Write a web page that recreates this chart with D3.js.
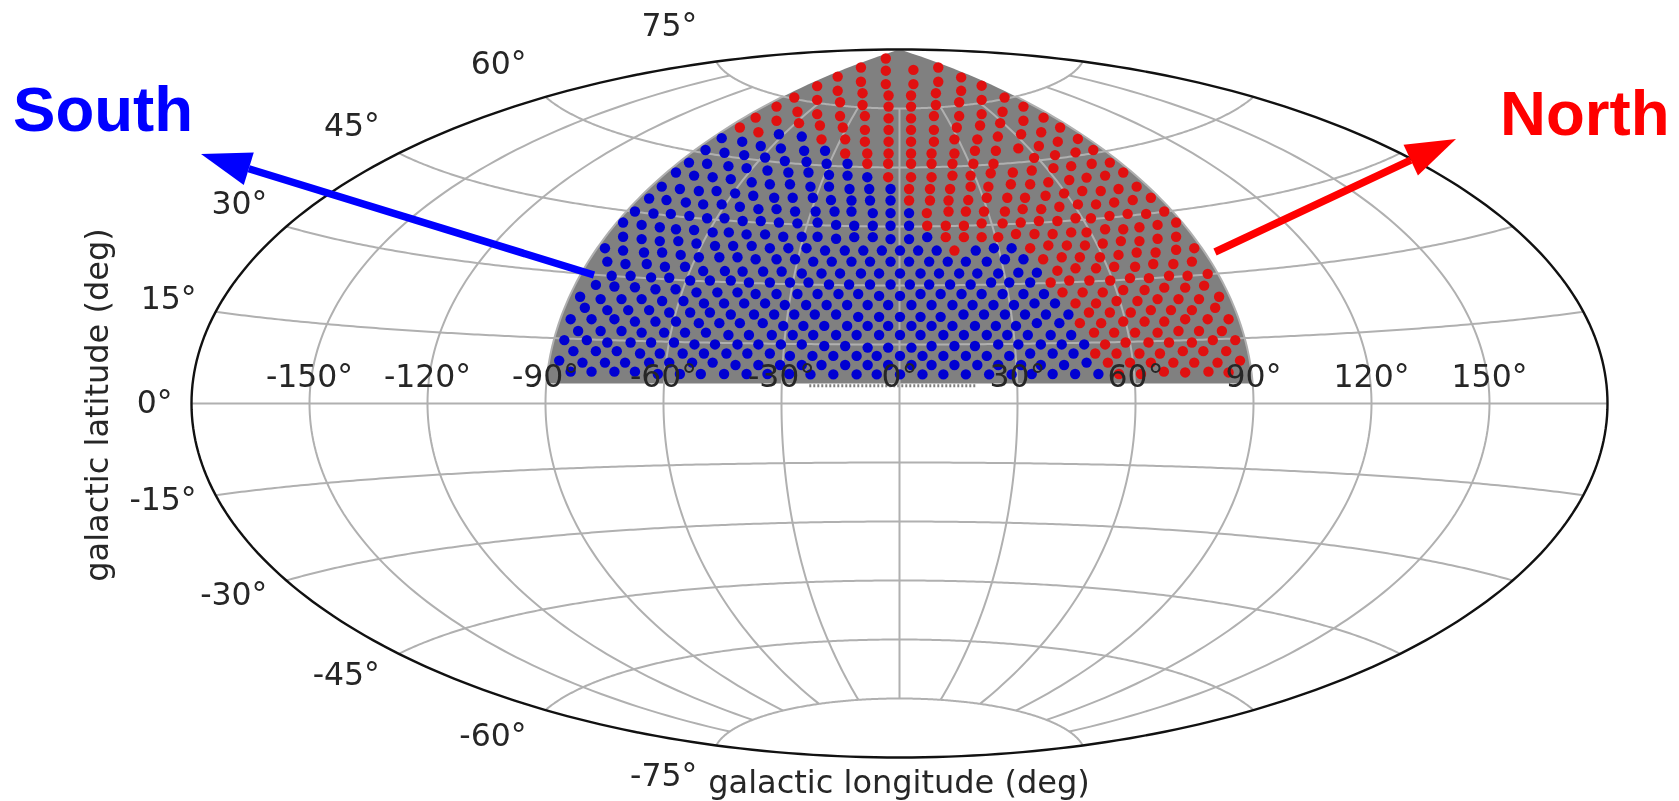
<!DOCTYPE html>
<html>
<head>
<meta charset="utf-8">
<title>Sky map</title>
<script src="https://cdn.jsdelivr.net/npm/d3@7"></script>
<style>
  html, body { margin: 0; background: #fff; }
  svg { display: block; }
  .tick { font-family: "DejaVu Sans"; font-size: 31.5px; fill: #262626; }
  .axis-title { font-family: "DejaVu Sans"; font-size: 32px; fill: #262626; }
  .big { font-family: "Liberation Sans"; font-size: 63.6px; font-weight: bold; }
</style>
</head>
<body>
<svg width="1679" height="801"></svg>
<script>
var lonTicks = [-150, -120, -90, -60, -30, 0, 30, 60, 90, 120, 150];
var latTicks = [75, 60, 45, 30, 15, 0, -15, -30, -45, -60, -75];
var lonLabels = ["-150°", "-120°", "-90°", "-60°", "-30°", "0°", "30°", "60°", "90°", "120°", "150°"];
var latLabels = ["75°", "60°", "45°", "30°", "15°", "0°", "-15°", "-30°", "-45°", "-60°", "-75°"];

// dots: [x, y] in projected degrees
var southDots = [
  [-73.1,32.5],[-68.3,32.5],[-63.1,32.1],[-58.5,32.0],[-49.9,33.7],[-44.4,33.7],[-39.9,33.6],[-34.7,33.6],[-30.0,33.6],
  [-77.1,30.2],[-72.4,29.8],[-67.2,29.6],[-62.0,29.1],[-56.9,29.1],[-53.2,31.3],[-48.2,31.3],[-42.9,31.3],[-38.3,30.8],[-33.0,30.8],
  [-81.1,27.2],[-75.9,26.6],[-70.6,26.6],[-65.5,26.6],[-60.3,26.1],[-54.9,26.1],[-51.6,28.3],[-46.3,28.3],[-41.2,28.3],[-36.6,27.9],[-31.3,27.9],
  [-79.9,24.4],[-74.2,23.8],[-68.9,23.8],[-63.6,23.8],[-58.5,23.2],[-53.2,23.2],[-49.7,25.5],[-44.6,25.5],[-39.5,25.5],[-34.2,25.5],
  [-83.5,21.5],[-78.2,21.5],[-72.4,21.5],[-67.2,20.9],[-62.0,20.9],[-56.8,20.9],[-48.2,23.2],[-42.9,22.7],[-37.0,22.7],[-31.9,22.7],
  [-81.6,18.5],[-75.9,18.5],[-70.6,18.5],[-65.5,18.1],[-59.8,18.1],[-54.5,18.1],[-51.0,20.5],[-45.8,20.5],[-40.6,20.5],[-34.8,20.5],
  [-85.1,16.2],[-79.4,16.2],[-74.2,15.6],[-68.3,15.6],[-63.1,15.6],[-57.3,15.6],[-49.2,18.1],[-43.5,17.5],[-38.3,17.5],[-32.5,17.5],
  [-82.8,13.4],[-77.1,13.4],[-71.8,13.4],[-65.9,12.8],[-60.9,12.8],[-55.1,12.8],[-52.1,15.1],[-46.9,15.1],[-41.2,15.1],[-35.9,15.1],
  [-86.4,11.0],[-80.5,10.5],[-74.8,10.5],[-69.7,10.5],[-63.6,10.5],[-58.5,10.5],[-52.7,10.5],[-49.7,12.8],[-44.0,12.8],[-38.7,12.8],[-33.0,12.8],
  [-83.5,8.2],[-78.2,8.2],[-72.4,8.2],[-67.2,8.2],[-61.4,7.6],[-55.8,7.6],[-50.5,7.6],[-47.5,10.5],[-41.7,9.9],[-35.9,9.9],[-30.4,9.9],[-44.6,7.6],[-38.9,7.6],[-33.6,7.6],[-28.1,7.6],
  [-24.9,33.1],[-19.9,33.1],[-15.2,33.1],[-9.9,33.1],[-5.3,33.1],[0,33.1],[5.2,33.1],[9.9,33.1],[15.0,33.1],[19.6,33.1],[24.9,33.1],
  [-27.9,30.8],[-23.2,30.8],[-18.0,30.3],[-12.9,30.3],[-7.6,30.3],[-2.4,30.3],[2.5,30.3],[7.4,30.3],[12.7,30.3],[17.9,30.3],[23.1,30.8],[27.7,30.8],
  [-26.0,27.9],[-20.9,27.9],[-15.6,27.9],[-10.6,27.9],[-5.3,27.4],[0,27.4],[5.2,27.9],[10.3,27.9],[15.6,27.9],[20.7,27.9],[26.0,27.9],
  [-29.2,25.1],[-23.8,25.1],[-18.6,25.1],[-13.4,25.1],[-8.2,25.1],[-3.0,25.1],[2.9,25.1],[8.0,25.1],[13.3,25.1],[18.4,25.1],[23.7,25.1],[28.9,25.1],
  [-26.8,22.7],[-21.6,22.7],[-16.2,22.7],[-10.6,22.1],[-5.3,22.1],[0,22.1],[5.2,22.1],[10.3,22.1],[16.1,22.7],[21.3,22.7],[26.6,22.7],
  [-29.6,19.8],[-24.5,19.8],[-19.2,19.8],[-13.4,19.8],[-8.2,19.8],[-3.0,19.8],[2.9,19.8],[8.0,19.8],[13.3,19.8],[19.0,19.8],[24.3,19.8],[29.4,19.8],
  [-27.2,17.5],[-22.0,17.5],[-16.2,17.5],[-11.0,17.5],[-5.3,17.5],[0,17.5],[5.2,17.5],[11.0,17.5],[16.2,17.5],[22.0,17.5],[27.2,17.5],
  [-30.2,15.1],[-24.9,15.1],[-19.2,14.7],[-13.9,14.7],[-8.2,14.3],[-3.0,14.3],[2.9,14.3],[8.0,14.7],[13.8,14.7],[19.0,14.7],[24.9,15.1],[30.0,15.1],
  [-27.9,12.2],[-22.2,12.2],[-16.9,12.2],[-11.0,12.2],[-5.9,12.2],[0,12.2],[5.7,12.2],[11.0,12.2],[16.7,12.2],[22.0,12.2],[27.7,12.2],
  [-24.9,9.9],[-19.9,9.9],[-13.9,9.9],[-8.2,9.9],[-3.0,9.9],[2.9,9.9],[8.0,9.9],[13.8,9.9],[19.6,9.9],[24.9,9.9],
  [-22.7,7.5],[-16.9,7.5],[-11.0,7.5],[-5.9,7.5],[0,7.5],[5.7,7.5],[11.0,7.5],[16.7,7.5],[22.6,7.5],[28.3,7.5],
  [30.0,33.3],[34.7,33.3],[33.0,30.8],[31.3,27.9],[36.5,27.9],[34.1,25.5],[39.3,25.5],[31.7,22.7],[37.0,22.7],[42.7,22.7],[34.7,20.5],[40.4,20.5],
  [32.4,17.5],[38.2,17.5],[43.4,17.5],[35.7,15.1],[41.0,15.1],[46.7,15.1],[33.0,12.8],[38.7,12.8],[44.0,12.8],[30.7,9.9],[35.7,9.9],[41.6,9.9],[47.3,10.5],
  [33.4,7.6],[38.7,7.6],[44.4,7.6],[50.3,7.6],
  [-13.3,60.9],[-13.3,57.9],[-8.3,57.5],[-12.8,54.5],[-7.8,54.5],[-2.4,54.5],[-12.3,51.6],[-7.6,51.6],[-2.4,51.6],[-12.3,48.8],[-6.9,48.4],[-2.4,48.4],[2.3,48.4],
  [-11.6,45.2],[-6.9,45.2],[-2.4,45.2],[2.3,45.2],[-11.6,42.3],[-6.9,42.3],[-2.4,41.8],[2.3,41.8],[6.9,42.3],
  [-14.0,38.9],[-9.3,38.9],[-4.6,38.9],[0,38.9],[4.6,38.9],[9.3,38.9],[19.2,38.9],[23.8,39.5],[28.3,39.5],
  [-12.3,36.1],[-7.6,36.1],[-2.4,36.1],[2.3,36.1],[7.4,36.1],[12.1,36.1],[16.7,36.1],[22.0,36.1],[26.6,36.7],[31.3,36.7],
  [-53.5,61.2],[-48.9,60.9],[-43.5,60.3],[-38.9,59.8],[-29.2,61.6],[-23.7,61.4],[-18.6,60.9],
  [-56.8,58.7],[-52.2,57.9],[-47.5,57.5],[-42.9,57.0],[-33.6,59.2],[-28.3,58.7],[-23.2,58.7],[-18.0,58.1],
  [-60.4,55.1],[-55.8,54.5],[-51.0,54.0],[-46.5,54.0],[-37.6,56.2],[-33.0,55.7],[-27.9,55.7],[-22.7,55.1],[-18.0,55.1],
  [-63.6,52.1],[-59.2,51.7],[-54.3,51.1],[-49.9,50.6],[-41.8,53.4],[-37.2,52.8],[-31.9,52.3],[-27.2,52.3],[-22.1,52.3],[-17.5,51.7],
  [-67.2,48.8],[-62.5,48.3],[-58.1,48.2],[-53.4,47.7],[-48.9,47.1],[-45.2,50.6],[-40.6,50.0],[-35.9,49.4],[-31.3,49.4],[-26.6,48.8],[-21.4,48.8],[-16.6,48.8],
  [-70.2,46.0],[-65.5,45.4],[-60.9,44.8],[-56.8,44.3],[-52.2,44.1],[-44.5,47.1],[-39.9,46.4],[-35.3,46.4],[-30.7,46.0],[-26.0,45.8],[-20.9,46.0],[-16.2,45.4],
  [-70.2,42.4],[-65.5,41.8],[-60.9,41.3],[-56.2,41.3],[-51.6,40.7],[-47.5,43.5],[-43.4,43.5],[-38.9,43.0],[-34.2,43.0],[-29.6,42.4],[-24.9,42.4],[-20.9,42.4],[-16.2,41.9],
  [-74.8,39.5],[-70.2,38.9],[-64.9,38.4],[-60.3,38.4],[-55.6,37.8],[-51.0,37.2],[-46.9,40.1],[-42.3,40.1],[-37.6,40.1],[-33.0,39.5],[-28.3,39.5],[-23.7,39.5],[-19.0,38.9],
  [-74.2,36.1],[-69.6,35.5],[-64.2,35.5],[-59.6,34.8],[-54.5,34.8],[-45.8,37.2],[-41.2,37.2],[-36.6,36.7],[-31.3,36.7],[-26.6,36.7],[-22.0,36.1],[-17.3,36.1],
  [-30.7,68.4],[-24.9,67.8],[-40.0,66.5],[-35.3,65.4],[-30.2,64.8],[-24.3,64.2],[-19.0,64.2],[-39.5,63.1],[-34.2,62.5],[-45.2,67.4],[-49.3,64.4],[-44.5,63.7]
];
var northDots = [
  [58.3,31.9],[63.1,31.9],[68.2,32.5],[72.9,32.5],[78.0,33.0],
  [38.2,30.8],[42.9,31.3],[48.0,31.3],[53.3,31.3],
  [41.2,28.3],[46.3,28.3],[51.4,28.3],[56.6,28.9],[62.0,28.9],[67.0,29.5],[72.3,29.5],[77.1,30.0],
  [44.5,25.5],[49.7,25.5],[54.9,26.1],[60.2,26.1],[65.3,26.6],[70.6,26.6],[75.8,26.6],[80.9,27.2],
  [47.9,23.2],[53.2,23.2],[58.5,23.2],[63.6,23.8],[68.7,23.8],[74.0,23.8],[79.9,24.4],
  [45.6,20.5],[51.0,20.5],[56.6,20.9],[62.0,20.9],[67.0,20.9],[72.3,21.5],[78.0,21.5],[83.3,21.5],
  [49.2,18.1],[54.3,18.1],[59.6,18.1],[65.3,18.1],[70.6,18.5],[75.8,18.5],[81.6,18.5],
  [52.0,15.1],[57.2,15.6],[63.0,15.6],[68.2,15.6],[74.0,15.6],[79.3,16.2],[85.0,16.2],
  [49.5,12.8],[54.9,12.8],[60.7,12.8],[65.9,12.8],[71.7,13.4],[76.9,13.4],[82.7,13.4],
  [52.7,10.5],[58.3,10.5],[63.6,10.5],[69.3,10.5],[74.6,10.5],[80.5,10.5],[86.2,11.0],
  [55.5,7.6],[61.1,7.6],[66.9,8.2],[72.3,8.0],[78.2,8.2],[83.3,8.0],
  [43.4,60.3],[48.6,60.9],[53.2,61.2],[38.9,59.8],[33.4,59.2],[28.6,58.7],[56.6,58.7],[52.0,57.9],[47.3,57.4],[42.9,56.8],[37.6,56.2],[33.0,55.7],[28.1,55.7],
  [60.0,55.1],[55.4,54.5],[50.9,54.0],[46.2,54.0],[41.6,53.4],[36.9,52.8],[31.7,52.3],[63.6,52.3],[59.0,51.7],[54.3,51.1],[49.7,50.6],[45.1,50.6],[40.4,50.0],[35.8,49.4],[31.1,49.4],
  [67.0,48.8],[62.4,48.2],[57.7,48.2],[53.1,47.7],[48.4,47.1],[44.5,47.1],[39.9,46.4],[35.2,46.4],[30.6,46.0],
  [70.0,46.0],[65.3,45.4],[60.7,44.8],[56.6,44.3],[52.0,44.3],[47.3,43.5],[43.4,43.5],[38.7,43.1],[34.1,43.1],[29.4,43.1],
  [70.0,42.4],[65.3,41.9],[60.7,41.3],[56.0,41.3],[51.4,40.7],[46.9,40.2],[42.3,40.2],[37.6,40.2],[33.0,39.5],
  [74.6,39.5],[70.0,39.1],[64.8,38.4],[60.0,38.4],[55.4,37.8],[50.7,37.2],[45.6,37.2],[41.0,37.2],[36.3,36.7],
  [74.0,36.1],[69.3,35.5],[64.2,35.5],[59.6,34.8],[54.3,34.8],[49.7,34.4],[44.5,34.4],[39.9,33.8],
  [-8.3,60.9],[-3.0,60.9],[2.8,60.9],[8.0,60.9],[13.3,60.9],[18.6,60.9],[23.7,60.9],
  [-3.0,57.5],[2.8,57.5],[8.0,57.5],[13.3,57.9],[17.9,57.9],[23.0,58.5],
  [2.3,54.5],[7.6,54.5],[12.7,54.5],[17.9,55.1],[22.4,55.1],
  [2.3,51.6],[7.6,51.6],[12.3,51.6],[17.3,51.7],[22.0,52.3],[27.2,52.3],
  [6.8,48.4],[12.3,48.8],[16.7,48.8],[21.3,48.8],[26.6,48.8],
  [6.9,45.2],[11.6,45.2],[16.2,45.2],[20.7,45.8],[26.0,45.8],
  [11.6,42.3],[16.2,42.3],[20.7,42.3],[24.9,42.3],[13.8,38.9],
  [-3.6,87.6],[-9.9,85.3],[-3.6,84.5],[3.4,84.7],[9.7,85.3],[-15.8,83.0],[-9.9,81.7],[-3.6,81.1],[3.4,81.1],[9.7,81.7],[15.5,82.8],[20.7,80.7],
  [-21.0,80.6],[-15.8,79.4],[-9.5,78.8],[-2.9,78.2],[2.8,78.2],[9.1,78.8],[15.5,79.4],
  [-26.8,77.7],[-21.0,77.1],[-15.2,76.5],[-9.5,75.8],[-2.9,75.4],[2.8,75.4],[9.1,75.8],[15.0,76.5],[20.7,77.1],[26.5,77.7],[31.3,75.4],
  [-31.3,75.4],[-26.0,74.1],[-21.0,73.5],[-15.2,73.0],[-8.9,73.0],[-2.9,72.4],[2.8,72.4],[8.6,73.0],[15.0,73.0],[20.7,73.5],[26.0,74.1],
  [-36.6,72.6],[-31.3,71.8],[-25.6,71.2],[-20.3,70.6],[-14.5,70.1],[-8.9,69.5],[-2.9,69.5],[2.8,69.5],[8.6,69.5],[14.4,70.1],[20.3,70.6],[25.4,71.2],[31.3,71.8],[36.4,72.6],
  [-40.6,70.1],[-35.9,68.9],[-19.9,67.1],[-13.9,67.1],[-8.9,66.5],[-2.9,66.5],[2.8,66.5],[8.6,66.5],[13.8,67.1],[19.6,67.1],[24.8,67.8],[30.7,68.4],[35.8,68.9],[40.6,70.1],
  [-13.9,63.5],[-8.3,63.5],[-2.9,63.5],[2.8,63.5],[8.0,63.5],[13.8,63.5],[19.0,64.2],[24.3,64.2],[30.0,64.8],[35.2,65.4],[40.0,66.5],[39.3,63.1],[34.0,62.4],
  [45.1,67.2],[44.5,63.8],[49.0,64.4]
];

var svg = d3.select("svg");
var cx = 899.5, cy = 403.5, rx = 708;

// matplotlib's aitoff
function aitoffRaw(lam, phi) {
  var alpha = Math.acos(Math.cos(phi) * Math.cos(lam / 2));
  var sinc = alpha === 0 ? 1 : Math.sin(alpha) / alpha;
  return [2 * Math.cos(phi) * Math.sin(lam / 2) / sinc, Math.sin(phi) / sinc];
}
var projection = d3.geoProjection(aitoffRaw)
  .scale(rx / Math.PI)
  .translate([cx, cy]);

// dots were read at this plane scale
var x = d3.scaleLinear().domain([-180, 180]).range([190, 1610]);
var y = d3.scaleLinear().domain([-90, 90]).range([759, 49]);
var line = d3.line();

function meridian(lon, from, to) {
  return line(d3.range(from, to + 0.5, 1).map(function(lat) { return projection([lon, lat]); }));
}
function parallel(lat, from, to) {
  return line(d3.range(from, to + 0.5, 1).map(function(lon) { return projection([lon, lat]); }));
}

var plot = svg.append("g").style("filter", "blur(0.7px)");

// grey footprint
var footprint = d3.range(4.6, 90.01, 1).map(function(lat) { return projection([-90, lat]); })
  .concat(d3.range(89.6, 4.59, -1).map(function(lat) { return projection([90, lat]); }));
plot.append("path")
  .attr("d", line(footprint) + "Z")
  .attr("fill", "#808080");
plot.append("line")
  .attr("x1", x(-23)).attr("x2", x(19.5))
  .attr("y1", y(4.6)).attr("y2", y(4.6))
  .attr("stroke", "#808080")
  .attr("stroke-width", 3)
  .attr("stroke-dasharray", "2 2");

// grid
var grid = plot.append("g").attr("fill", "none").attr("stroke", "#b0b0b0").attr("stroke-width", 2);
lonTicks.forEach(function(lon) {
  grid.append("path").attr("d", meridian(lon, -75, 75));
});
latTicks.forEach(function(lat) {
  grid.append("path").attr("d", parallel(lat, -180, 180));
});

// dots
plot.selectAll("circle.south").data(southDots).join("circle")
  .attr("class", "south")
  .attr("cx", function(d) { return x(d[0]); })
  .attr("cy", function(d) { return y(d[1]); })
  .attr("r", 5.2)
  .attr("fill", "#0000d2");
plot.selectAll("circle.north").data(northDots).join("circle")
  .attr("class", "north")
  .attr("cx", function(d) { return x(d[0]); })
  .attr("cy", function(d) { return y(d[1]); })
  .attr("r", 5.2)
  .attr("fill", "#e01010");

// outline
var outline = d3.range(-90, 90.5, 1).map(function(lat) { return projection([180, lat]); })
  .concat(d3.range(90, -90.5, -1).map(function(lat) { return projection([-180, lat]); }));
plot.append("path")
  .attr("d", line(outline) + "Z")
  .attr("fill", "none")
  .attr("stroke", "#111")
  .attr("stroke-width", 2.4);

// tick labels
plot.selectAll("text.lon").data(lonTicks).join("text")
  .attr("class", "tick lon")
  .attr("x", function(d) { return projection([d, 0])[0]; })
  .attr("y", cy - 28)
  .attr("dy", "0.36em")
  .attr("text-anchor", "middle")
  .text(function(d, i) { return lonLabels[i]; });

var latLabelDy = [-37, -34, -29, -24, -14, -2, 4, 13, 20, 25, 29];
plot.selectAll("text.lat").data(latTicks).join("text")
  .attr("class", "tick lat")
  .attr("x", function(d) { return projection([-180, d])[0] - 19; })
  .attr("y", function(d, i) { return projection([-180, d])[1] + latLabelDy[i]; })
  .attr("dy", "0.36em")
  .attr("text-anchor", "end")
  .text(function(d, i) { return latLabels[i]; });

plot.append("text")
  .attr("class", "axis-title")
  .attr("x", 899)
  .attr("y", 793)
  .attr("text-anchor", "middle")
  .text("galactic longitude (deg)");
plot.append("text")
  .attr("class", "axis-title")
  .attr("transform", "translate(108,405) rotate(-90)")
  .attr("text-anchor", "middle")
  .text("galactic latitude (deg)");

// callouts
function arrow(x0, y0, x1, y1, len, half, color) {
  var a = Math.atan2(y1 - y0, x1 - x0);
  var bx = x1 - len * Math.cos(a), by = y1 - len * Math.sin(a);
  var nx = -Math.sin(a) * half, ny = Math.cos(a) * half;
  svg.append("line")
    .attr("x1", x0).attr("y1", y0).attr("x2", bx).attr("y2", by)
    .attr("stroke", color).attr("stroke-width", 7.5);
  svg.append("path")
    .attr("d", line([[x1, y1], [bx + nx, by + ny], [bx - nx, by - ny]]) + "Z")
    .attr("fill", color);
}
arrow(594, 275, 201, 154, 50, 17, "#0000ff");
arrow(1215, 252, 1456, 139, 50, 17, "#ff0000");

svg.append("text").attr("class", "big").attr("x", 13).attr("y", 131).attr("fill", "#0000ff").text("South");
svg.append("text").attr("class", "big").attr("x", 1500).attr("y", 135).attr("fill", "#ff0000").text("North");
</script>
</body>
</html>
